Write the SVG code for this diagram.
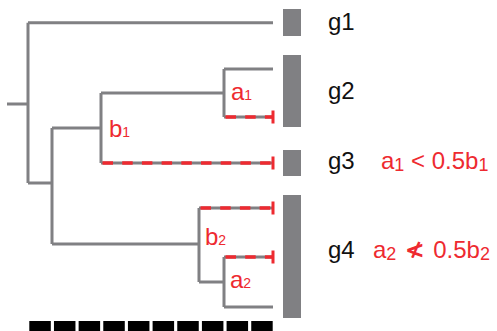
<svg xmlns="http://www.w3.org/2000/svg" width="497" height="331" viewBox="0 0 497 331">
  <style>
    .branch { fill: none; stroke: #808083; stroke-width: 3; stroke-linejoin: miter; }
    .red-dash { fill: none; stroke: #ee2a30; stroke-width: 3.5; stroke-dasharray: 10.5 9.2; }
    .tick { stroke: #ee2a30; stroke-width: 3; }
    .bar { fill: #808083; }
    .gname { font-family: "Liberation Sans", Arial, sans-serif; font-size: 24px; fill: #111; }
    .lbl { font-family: "Liberation Sans", Arial, sans-serif; font-size: 24px; fill: #ee2a30; }
    .sub { font-size: 14px; }
    .fsub { font-size: 18px; }
  </style>
  <rect width="497" height="331" fill="#fff"/>

  <!-- tree branches -->
  <g id="connectors">
    <path class="branch" d="M7,104 H28 M28,22.7 V183 M28,22.7 H273 M28,183 H52 M52,128 V244 M52,128 H101 M101,93 V163 M101,93 H224 M224,69 V117 M224,69 H273 M224,117 H273 M101,163 H273 M52,244 H199 M199,208 V282 M199,208 H273 M199,282 H224 M224,257 V307 M224,257 H273 M224,307 H273"/>
    <!-- highlighted branches -->
    <path class="red-dash" d="M225.5,117 H272 M102.5,163 H272 M200.5,208 H272 M225.5,257 H272"/>
    <path class="tick" d="M273,110.5 V123.5 M273,156.5 V169.5 M273,201.5 V214.5 M273,250.5 V263.5"/>
  </g>

  <!-- internal node labels -->
  <g id="label-a1"><text class="lbl" x="231" y="100">a<tspan class="sub">1</tspan></text></g>
  <g id="label-b1"><text class="lbl" x="109" y="137">b<tspan class="sub">1</tspan></text></g>
  <g id="label-b2"><text class="lbl" x="205" y="245">b<tspan class="sub">2</tspan></text></g>
  <g id="label-a2"><text class="lbl" x="230" y="288">a<tspan class="sub">2</tspan></text></g>

  <!-- gene groups -->
  <g id="g1">
    <rect class="bar" x="283" y="9" width="18" height="27"/>
    <text class="gname" x="328" y="30">g1</text>
  </g>
  <g id="g2">
    <rect class="bar" x="283" y="55" width="18" height="72"/>
    <text class="gname" x="328" y="99">g2</text>
  </g>
  <g id="g3">
    <rect class="bar" x="283" y="150" width="18" height="26"/>
    <text class="gname" x="328" y="169">g3</text>
    <text class="lbl" x="381" y="169">a<tspan class="fsub" dy="2">1</tspan><tspan dy="-2"> &lt; 0.5b</tspan><tspan class="fsub" dy="2">1</tspan></text>
  </g>
  <g id="g4">
    <rect class="bar" x="283" y="195" width="18" height="123"/>
    <text class="gname" x="328" y="258">g4</text>
    <text class="lbl" x="373" y="258">a<tspan class="fsub" dy="2">2</tspan><tspan dy="-2" font-family="'DejaVu Sans', sans-serif" font-weight="bold"> ≮ </tspan><tspan>0.5b</tspan><tspan class="fsub" dy="2">2</tspan></text>
  </g>

  <!-- scale bar -->
  <line x1="29.3" y1="326" x2="272.7" y2="326" stroke="#000" stroke-width="10" stroke-dasharray="21.5 3.16"/>
</svg>
